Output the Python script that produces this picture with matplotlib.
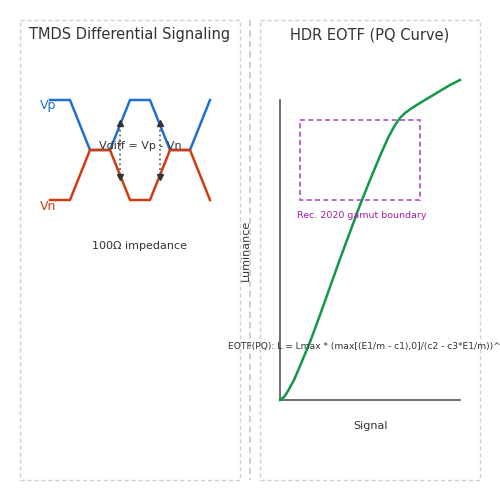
import matplotlib.pyplot as plt
from matplotlib.patches import Rectangle

# signal shapes (pixel coords)
vp_x = [50, 70, 90, 110, 130, 150, 170, 190, 210]
vp_y = [100, 100, 150, 150, 100, 100, 150, 150, 100]
vn_x = [50, 70, 90, 110, 130, 150, 170, 190, 210]
vn_y = [200, 200, 150, 150, 200, 200, 150, 150, 200]
arrow_x = [120, 160]

# PQ curve
eotf_x = [280, 284, 288, 294, 300, 310, 320, 330, 340, 350, 360, 370, 380, 388, 395, 400, 405, 412, 420, 430, 440, 450, 460]
eotf_y = [400, 397, 391, 380, 366, 342, 315, 287, 259, 232, 205, 180, 156, 138, 125, 118, 113, 108, 103, 97, 91, 85, 80]

fig = plt.figure(figsize=(5, 5), dpi=100)
ax = fig.add_axes([0, 0, 1, 1])
ax.set_xlim(0, 500)
ax.set_ylim(500, 0)
ax.axis("off")

gray = "#d0d0d0"
for x0 in [20, 260]:
    ax.add_patch(Rectangle((x0, 20), 220, 460, fill=False, ec=gray, ls=(0, (3, 2)), lw=1))
ax.plot([250, 250], [20, 480], color=gray, ls=(0, (3, 2)), lw=1.5)

ax.text(130, 35, "TMDS Differential Signaling", ha="center", va="center", fontsize=10.5, color="#333333")
ax.text(370, 35, "HDR EOTF (PQ Curve)", ha="center", va="center", fontsize=10.5, color="#333333")

ax.plot(vp_x, vp_y, color="#1f6fd1", lw=1.8)
ax.plot(vn_x, vn_y, color="#d03c10", lw=1.8)
ax.text(40, 106, "Vp", color="#1f6fd1", fontsize=9, va="center")
ax.text(40, 206, "Vn", color="#d03c10", fontsize=9, va="center")
for x in arrow_x:
    ax.plot([x, x], [125, 175], color="#666666", ls=":", lw=1.3)
    ax.plot(x, 123, marker="^", color="#333333", ms=4)
    ax.plot(x, 177, marker="v", color="#333333", ms=4)
ax.text(140, 146, "Vdiff = Vp - Vn", ha="center", va="center", fontsize=8, color="#333333")
ax.text(140, 246, "100Ω impedance", ha="center", va="center", fontsize=8, color="#333333")

ax.plot([280, 280], [100, 400], color="#555555", lw=1.2)
ax.plot([280, 460], [400, 400], color="#555555", lw=1.2)
ax.plot(eotf_x, eotf_y, color="#119944", lw=1.8)
ax.add_patch(Rectangle((300, 120), 120, 80, fill=False, ec="#b44cc4", ls=(0, (3, 2)), lw=1.2))
ax.text(297, 216, "Rec. 2020 gamut boundary", color="#a020a8", fontsize=6.8, va="center")
ax.text(246, 250, "Luminance", rotation=90, ha="center", va="center", fontsize=8, color="#333333")
ax.text(370, 426, "Signal", ha="center", va="center", fontsize=8, color="#333333")
ax.text(228, 346, "EOTF(PQ): L = Lmax * (max[(E1/m - c1),0]/(c2 - c3*E1/m))^1/n",
        va="center", fontsize=6.6, color="#333333")

fig.savefig("out.png", dpi=100)
